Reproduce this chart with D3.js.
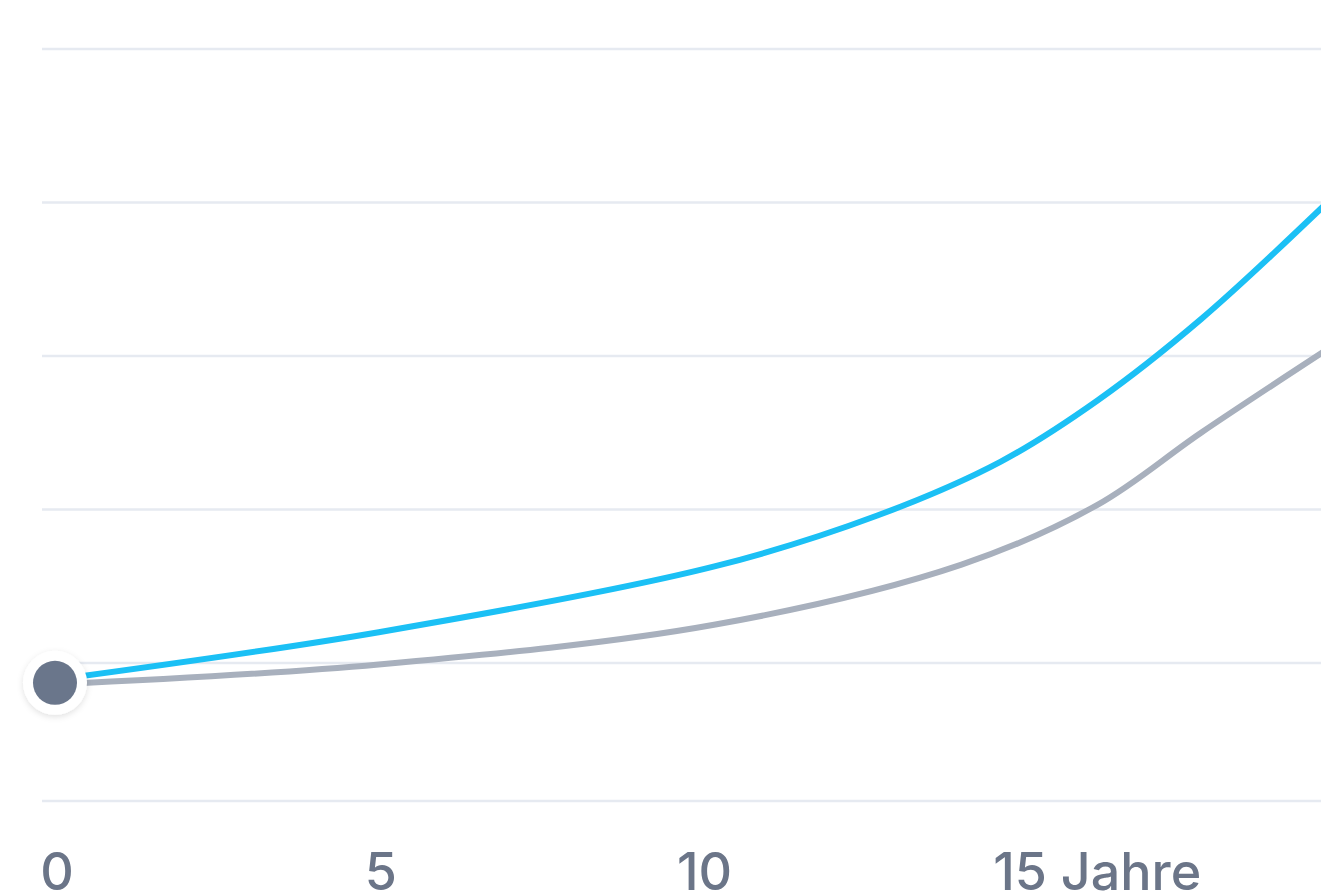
<!DOCTYPE html>
<html><head><meta charset="utf-8">
<script src="https://cdn.jsdelivr.net/npm/d3@7"></script>
<style>body{margin:0;background:#fff;overflow:hidden}</style>
</head><body>
<svg id="c" width="1321" height="892"></svg>
<script>
const blueYears = [0,5,10.2,12.7,14.6,16.1,17.7,19.6];
const blueValues = [-0.11,0.20,0.63,0.96,1.31,1.71,2.24,2.98];
const grayYears = [0,5,10.2,14,16.1,17.7,19.6];
const grayValues = [-0.14,-0.01,0.25,0.64,1.03,1.50,2.03];
const gridValues = [-0.9,0,1,2,3,4];
const xTicks = [0,5,10,15];
const xTickLabels = ["0","5","10","15 Jahre"];

const svg = d3.select("#c");
const x = d3.scaleLinear().domain([0,20]).range([55,1350]);
const y = d3.scaleLinear().domain([-0.9,4]).range([801,49]);

svg.append("g").selectAll("line").data(gridValues).join("line")
  .attr("x1",42).attr("x2",1321).attr("y1",d=>y(d)).attr("y2",d=>y(d))
  .attr("stroke","#e6eaf1").attr("stroke-width",2.5);

const line = d3.line().curve(d3.curveCatmullRom.alpha(0.5));
svg.append("path").attr("d",line(grayYears.map((t,i)=>[x(t),y(grayValues[i])])))
  .attr("fill","none").attr("stroke","#a8b0bd").attr("stroke-width",6);
svg.append("path").attr("d",line(blueYears.map((t,i)=>[x(t),y(blueValues[i])])))
  .attr("fill","none").attr("stroke","#1bc0f5").attr("stroke-width",6);

const defs = svg.append("defs");
const f = defs.append("filter").attr("id","sh").attr("x","-50%").attr("y","-50%").attr("width","200%").attr("height","200%");
f.append("feDropShadow").attr("dx",0).attr("dy",2).attr("stdDeviation",3).attr("flood-color","#000").attr("flood-opacity",0.12);
svg.append("circle").attr("cx",x(0)).attr("cy",y(-0.13)).attr("r",32).attr("fill","#fff").attr("filter","url(#sh)");
svg.append("circle").attr("cx",x(0)).attr("cy",y(-0.13)).attr("r",22).attr("fill","#6a768b");

svg.append("g").selectAll("text").data(xTicks).join("text")
  .attr("x",(d,i)=> i===3 ? 993 - 0 : x(d)).attr("x",(d,i)=> i===3 ? x(d)-33 : x(d)+2)
  .attr("y",890)
  .attr("text-anchor",(d,i)=> i===3 ? "start" : "middle")
  .attr("font-family","Inter, sans-serif").attr("font-size",52).attr("font-weight",500).attr("fill","#6b7588")
  .text((d,i)=>xTickLabels[i]);
</script>
</body></html>
